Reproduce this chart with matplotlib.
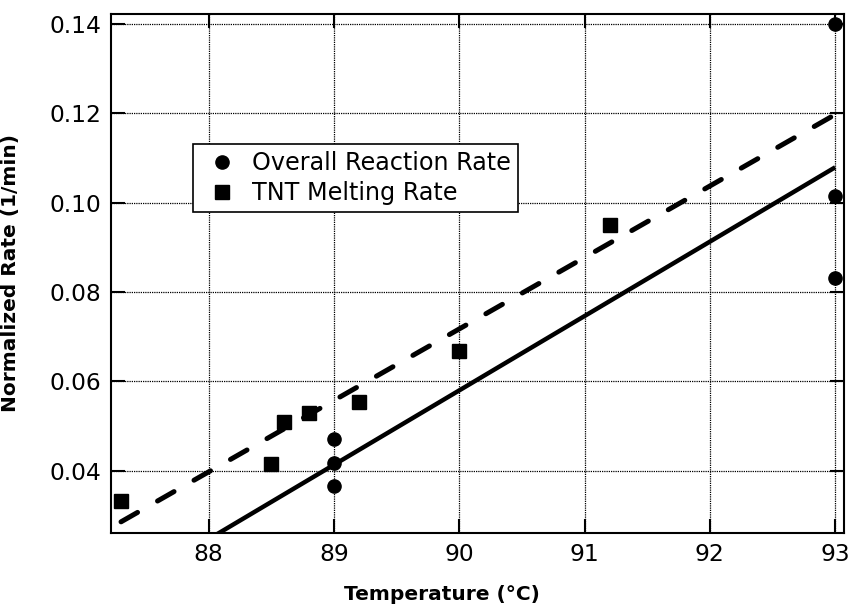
import matplotlib
matplotlib.use("Agg")
import matplotlib.pyplot as plt
import numpy as np

plt.rcParams['font.family'] = ['DejaVu Sans']

# Data
reaction_T = [89.0, 89.0, 89.0, 93.0, 93.0, 93.0]
reaction_rate = [0.0472, 0.0418, 0.0366, 0.1400, 0.1015, 0.0831]
melting_T = [87.3, 88.5, 88.6, 88.8, 89.2, 90.0, 91.2]
melting_rate = [0.0333, 0.0415, 0.0510, 0.0530, 0.0555, 0.0668, 0.0950]

# Fitted lines (endpoints)
fit_T = [87.3, 93.0]
reaction_fit = [0.0131, 0.1079]
melting_fit = [0.0286, 0.1197]

xticks = [88, 89, 90, 91, 92, 93]
yticks = [0.04, 0.06, 0.08, 0.10, 0.12, 0.14]

fig = plt.figure(figsize=(8.52, 6.05), dpi=100)
ax = fig.add_axes([0.1303, 0.119, 0.8603, 0.858])

ax.plot(fit_T, reaction_fit, color='black', lw=3.2, solid_capstyle='butt', zorder=3)
ax.plot(fit_T, melting_fit, color='black', lw=3.6, linestyle=(0, (3.8, 4.6)),
        dash_capstyle='round', zorder=3)

ax.plot(reaction_T, reaction_rate, 'o', color='black', ms=9.5, clip_on=False,
        zorder=4, label='Overall Reaction Rate')
ax.plot(melting_T, melting_rate, 's', color='black', ms=10, clip_on=False,
        zorder=4, label='TNT Melting Rate')

ax.set_xlim(87.22, 93.07)
ax.set_ylim(0.0261, 0.1422)
ax.set_xticks(xticks)
ax.set_xticklabels([str(t) for t in xticks])
ax.set_yticks(yticks)
ax.set_yticklabels(['%.2f' % t for t in yticks])

ax.grid(True, color='black', linestyle=(0, (1, 0.8)), linewidth=0.9)
ax.tick_params(direction='in', length=10, width=1.5, labelsize=16.8,
               top=True, right=True, pad=7)
for s in ax.spines.values():
    s.set_linewidth(1.5)

ax.set_xlabel('Temperature (°C)', fontsize=14.5, fontweight='bold')
ax.xaxis.set_label_coords(0.452, -0.1)
ax.set_ylabel('Normalized Rate (1/min)', fontsize=14.5, fontweight='bold')
ax.yaxis.set_label_coords(-0.124, 0.5)

leg = ax.legend(loc='upper left', bbox_to_anchor=(0.112, 0.7495), borderaxespad=0,
                fontsize=17.2, frameon=True, fancybox=False, framealpha=1,
                edgecolor='black', handlelength=1.84, handletextpad=0.33,
                borderpad=0.3, labelspacing=0.26)
leg.get_frame().set_linewidth(1.2)

fig.savefig('out.png', dpi=100)
